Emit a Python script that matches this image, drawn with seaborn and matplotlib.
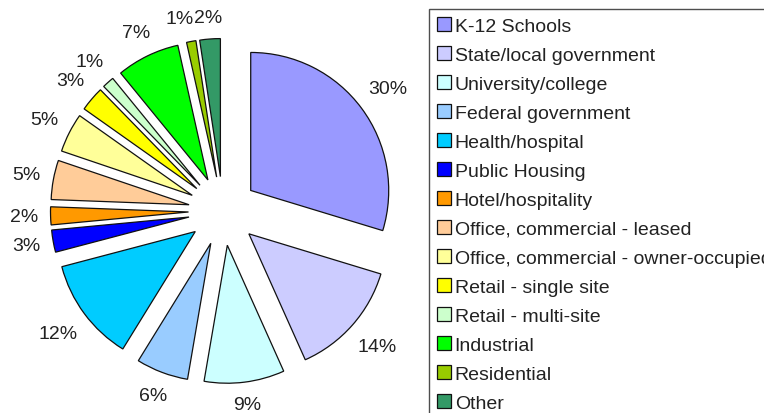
import numpy as np
import matplotlib
matplotlib.use("Agg")
import matplotlib.pyplot as plt
import seaborn as sns

# Market segments, share of respondents (%); labels show the rounded value
segments = [
    "K-12 Schools",
    "State/local government",
    "University/college",
    "Federal government",
    "Health/hospital",
    "Public Housing",
    "Hotel/hospitality",
    "Office, commercial - leased",
    "Office, commercial - owner-occupied",
    "Retail - single site",
    "Retail - multi-site",
    "Industrial",
    "Residential",
    "Other",
]
shares = [29.7, 13.6, 9.4, 6.1, 12.1, 2.6, 2.1, 4.6, 4.6, 2.9, 1.4, 7.4, 1.1, 2.4]
segment_colors = [
    "#9999FF", "#CCCCFF", "#CCFFFF", "#99CCFF", "#00CCFF", "#0000FF", "#FF9900",
    "#FFCC99", "#FFFF99", "#FFFF00", "#CCFFCC", "#00FF00", "#99CC00", "#339966",
]

sns.set_theme(style="white")
plt.rcParams["font.family"] = ["Liberation Sans", "DejaVu Sans"]

palette = sns.color_palette(segment_colors)

W, H, DPI = 764, 414, 100
fig = plt.figure(figsize=(W / DPI, H / DPI), dpi=DPI)
ax = fig.add_axes([0, 0, 1, 1])

wedges, _, pct_texts = ax.pie(
    shares,
    colors=palette,
    explode=[0.25] * len(shares),
    startangle=90,
    counterclock=False,
    radius=1.0,
    autopct="%.0f%%",
    pctdistance=1.2,
    wedgeprops=dict(edgecolor="#111111", linewidth=0.9),
    textprops=dict(fontsize=14, color="#222222"),
)

# pie centre sits at about (223, 212) px, radius about 138 px
r_px, cx, cy = 138.0, 223.0, 212.0
ax.set_xlim(-cx / r_px, (W - cx) / r_px)
ax.set_ylim(-(H - cy) / r_px, cy / r_px)
ax.set_aspect("auto")
ax.axis("off")

# place labels just outside the arc, like "outside end" labels
fig.canvas.draw()
renderer = fig.canvas.get_renderer()
gap = 12.0 / r_px
boxes = []
for w, t in zip(wedges, pct_texts):
    mid = np.deg2rad((w.theta1 + w.theta2) / 2)
    ext = t.get_window_extent(renderer)
    hw, hh = ext.width / 2 / r_px, ext.height / 2 / r_px
    d = w.r + gap + abs(np.cos(mid)) * hw + abs(np.sin(mid)) * hh
    x = w.center[0] + d * np.cos(mid)
    y = w.center[1] + d * np.sin(mid)
    t.set_position((x, y))
    boxes.append([x - hw, x + hw, y - hh, y + hh])

# nudge a label left if it runs into the one after it
for i in range(len(pct_texts) - 1, 0, -1):
    a, b = boxes[i - 1], boxes[i]
    hits = a[0] < b[1] and b[0] < a[1] and a[2] < b[3] and b[2] < a[3]
    if hits and (a[0] + a[1]) < (b[0] + b[1]):
        shift = a[1] - b[0] + 1.0 / r_px
        a[0] -= shift
        a[1] -= shift
        x, y = pct_texts[i - 1].get_position()
        pct_texts[i - 1].set_position((x - shift, y))

leg = fig.legend(
    wedges,
    segments,
    loc="upper left",
    bbox_to_anchor=(429 / W, 1 - 10 / H),
    borderaxespad=0,
    frameon=True,
    fancybox=False,
    shadow=False,
    fontsize=14,
    handlelength=0.72,
    handleheight=0.72,
    handletextpad=0.2,
    labelspacing=0.58,
    borderpad=0.4,
)
leg.get_frame().set_edgecolor("#222222")
leg.get_frame().set_linewidth(1.0)
for t in leg.get_texts():
    t.set_color("#222222")

fig.savefig("out.png", dpi=DPI)
